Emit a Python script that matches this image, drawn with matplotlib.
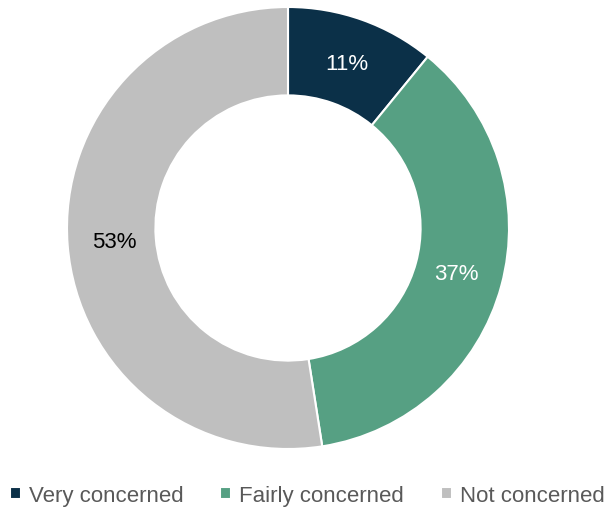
import matplotlib.pyplot as plt

categories = ['Very concerned', 'Fairly concerned', 'Not concerned']
values = [11, 37, 53]
colors = ['#0B3048', '#56A083', '#BFBFBF']
label_colors = ['white', 'white', 'black']

plt.rcParams['font.family'] = ['Liberation Sans', 'DejaVu Sans']

fig = plt.figure(figsize=(6.06, 5.10), dpi=100)
ax = fig.add_axes([67 / 606, 60 / 510, 442 / 606, 442 / 510])

wedges, texts, autotexts = ax.pie(
    values, colors=colors, startangle=90, counterclock=False,
    radius=1, autopct='%1.0f%%', pctdistance=0.79,
    wedgeprops=dict(width=0.4, edgecolor='white', linewidth=1.5),
)
for t, v, c in zip(autotexts, values, label_colors):
    t.set_text(f'{v}%')
    t.set_color(c)
    t.set_fontsize(16)

ax.set_xlim(-1, 1)
ax.set_ylim(-1, 1)
ax.set_aspect('equal')

leg = fig.legend(wedges, categories, loc='center', bbox_to_anchor=(0.507, 0.026),
                 ncol=3, frameon=False, fontsize=16, handlelength=0.5,
                 handleheight=0.45, handletextpad=0.35, columnspacing=1.65,
                 borderpad=0, borderaxespad=0)
for t in leg.get_texts():
    t.set_color('#595959')

fig.savefig('out.png', dpi=100)
